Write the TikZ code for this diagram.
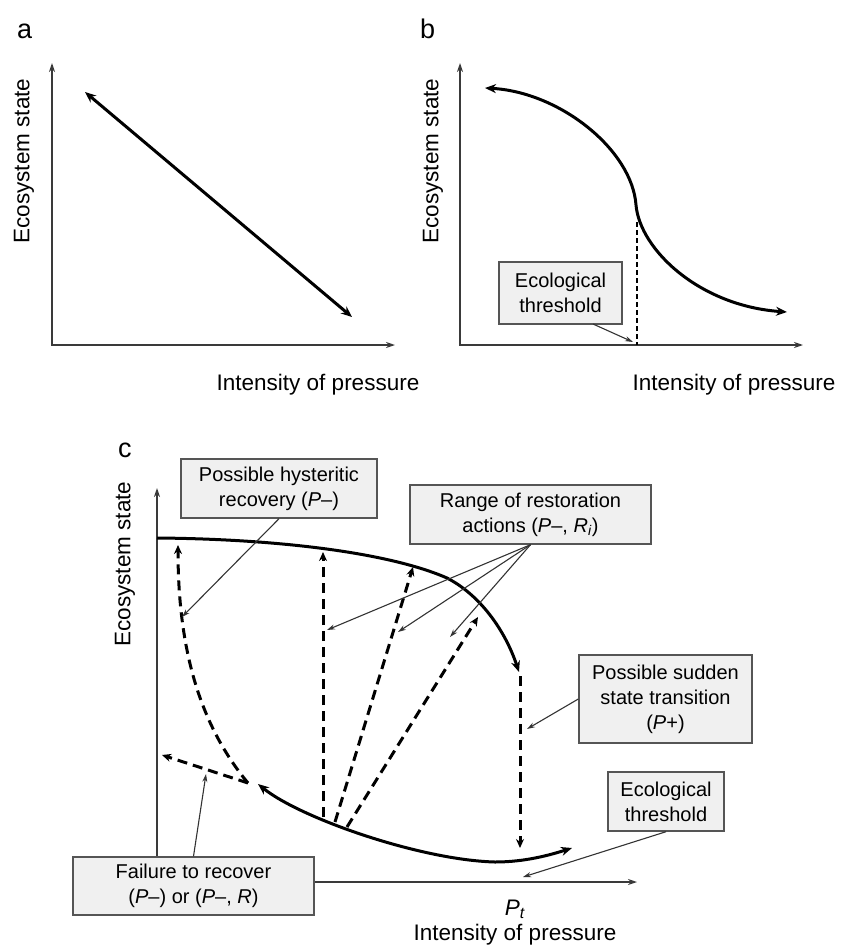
\documentclass[tikz,border=0pt]{standalone}
\usepackage{fontspec}
\setmainfont{Liberation Sans}
\usepackage{tikz}
\usetikzlibrary{arrows.meta}
\definecolor{axisGray}{HTML}{3A3A3A}
\definecolor{boxFill}{HTML}{F0F0F0}
\definecolor{boxEdge}{HTML}{555555}
\definecolor{pointerGray}{HTML}{333333}
\newcommand{\panelfont}{\fontsize{27}{30}\selectfont}
\newcommand{\axisfont}{\fontsize{22.5}{27}\selectfont}
\newcommand{\notefont}{\fontsize{20}{25}\selectfont}
\tikzstyle{axis} = [draw=axisGray, line width=1.6pt, {Stealth[length=9pt,width=6pt]}-{Stealth[length=9pt,width=6pt]}]
\tikzstyle{trend} = [draw, line width=3pt, {Stealth[length=11pt,width=9pt]}-{Stealth[length=11pt,width=9pt]}]
\tikzstyle{curve} = [draw, line width=3pt, -{Stealth[length=11pt,width=9pt]}]
\tikzstyle{jump} = [draw, line width=3pt, dash pattern=on 10pt off 6pt, -{Stealth[length=9pt,width=8pt]}]
\tikzstyle{thresh} = [draw, line width=1.3pt, dash pattern=on 5pt off 3pt]
\tikzstyle{pointer} = [draw=pointerGray, line width=1.1pt, -{Stealth[length=8pt,width=5pt]}]
\tikzstyle{note} = [rectangle, draw=boxEdge, fill=boxFill, line width=1.4pt, align=center, inner sep=0pt, font=\notefont]
\tikzstyle{panel} = [inner sep=0pt, font=\panelfont]
\tikzstyle{axisLabel} = [inner sep=0pt, font=\axisfont]

\begin{document}
\begin{tikzpicture}[x=1pt, y=-1pt]

   \useasboundingbox (0,0) rectangle (844,947);

   %% Panel a

   \node[panel, anchor=base west] (labA) at (17,39) {a};

   \coordinate (oA) at (52,345);
   \coordinate (yA) at (52,63);
   \coordinate (xA) at (395,345);
   \path[axis] (yA) -- (oA) -- (xA);

   \node[axisLabel, rotate=90] (ylabA) at (24,161) {Ecosystem state};
   \node[axisLabel, anchor=base] (xlabA) at (318,390) {Intensity of pressure};

   \coordinate (hiA) at (85,92);
   \coordinate (loA) at (352,317);
   \path[trend] (hiA) -- (loA);

   %% Panel b

   \node[panel, anchor=base west] (labB) at (420,39) {b};

   \coordinate (oB) at (460,345);
   \coordinate (yB) at (460,63);
   \coordinate (xB) at (803,345);
   \path[axis] (yB) -- (oB) -- (xB);

   \node[axisLabel, rotate=90] (ylabB) at (433,161) {Ecosystem state};
   \node[axisLabel, anchor=base] (xlabB) at (734,390) {Intensity of pressure};

   \coordinate (hiB) at (485,88);
   \coordinate (midB) at (636,205);
   \coordinate (loB) at (787,312);
   \path[trend] (hiB) .. controls (560,92) and (632,150) .. (midB)
                .. controls (640,250) and (700,306) .. (loB);

   % threshold line
   \coordinate (tB) at (637,222);
   \coordinate (tBaxis) at (637,345);
   \path[thresh] (tB) -- (tBaxis);

   \node[note, minimum width=123pt, minimum height=62pt] (ecoB) at (560.5,293) {Ecological\\threshold};
   \coordinate (ecoBfoot) at (593,324);
   \coordinate (ecoBtip) at (633,342);
   \path[pointer] (ecoBfoot) -- (ecoBtip);

   %% Panel c

   \node[panel, anchor=base west] (labC) at (118,457) {c};

   \coordinate (oC) at (157,882);
   \coordinate (yC) at (157,488);
   \coordinate (xC) at (637,882);
   \path[axis] (yC) -- (oC) -- (xC);

   \node[axisLabel, rotate=90] (ylabC) at (125,564) {Ecosystem state};
   \node[axisLabel, anchor=base] (ptC) at (515,915) {\textit{P}\textsubscript{\textit{t}}};
   \node[axisLabel, anchor=base] (xlabC) at (515,940) {Intensity of pressure};

   % stable state
   \coordinate (stableC) at (157,538);
   \coordinate (bendC) at (447,578);
   \coordinate (edgeC) at (519,672);
   \path[curve] (stableC) .. controls (280,539) and (390,553) .. (bendC)
                .. controls (480,595) and (505,630) .. (edgeC);

   % degraded state
   \coordinate (degL) at (258,784);
   \coordinate (degM) at (495,862);
   \coordinate (degR) at (572,848);
   \path[trend] (degL) .. controls (300,818) and (420,860) .. (degM)
                .. controls (525,862) and (550,855) .. (degR);

   % dashed transitions
   \coordinate (hystBot) at (248,783);
   \coordinate (hystTop) at (178,545);
   \coordinate (failTip) at (162,755);
   \path[jump] (hystBot) .. controls (200,725) and (178,650) .. (hystTop);
   \path[jump] (hystBot) -- (failTip);

   \coordinate (r1Bot) at (323,817);
   \coordinate (r1Top) at (323,552);
   \coordinate (r2Bot) at (335,822);
   \coordinate (r2Top) at (413,567);
   \coordinate (r3Bot) at (347,827);
   \coordinate (r3Top) at (478,617);
   \path[jump] (r1Bot) -- (r1Top);
   \path[jump] (r2Bot) -- (r2Top);
   \path[jump] (r3Bot) -- (r3Top);

   \coordinate (jumpTop) at (520,676);
   \coordinate (jumpBot) at (520,848);
   \path[jump] (jumpTop) -- (jumpBot);

   %% Boxes

   \node[note, minimum width=196pt, minimum height=59pt] (hyst) at (279,488.5) {Possible hysteritic\\recovery (\textit{P}–)};
   \node[note, minimum width=241pt, minimum height=59pt] (range) at (530.5,514.5) {Range of restoration\\actions (\textit{P}–, \textit{R}\textsubscript{\textit{i}})};
   \node[note, minimum width=173pt, minimum height=88pt] (sudden) at (665.5,699) {Possible sudden\\state transition\\(\textit{P}+)};
   \node[note, minimum width=116pt, minimum height=59pt] (ecoC) at (666,801.5) {Ecological\\threshold};
   \node[note, minimum width=241pt, minimum height=58pt] (fail) at (193.5,886) {Failure to recover\\(\textit{P}–) or (\textit{P}–, \textit{R})};

   %% Pointers

   \coordinate (hystTip) at (182,617);
   \coordinate (rangeTip1) at (327,630);
   \coordinate (rangeTip2) at (398,632);
   \coordinate (rangeTip3) at (450,637);
   \coordinate (suddenTip) at (527,729);
   \coordinate (ecoCTip) at (523,877);
   \coordinate (failTipPtr) at (206,774);

   \path[pointer] (hyst.south) -- (hystTip);
   \path[pointer] (range.south) -- (rangeTip1);
   \path[pointer] (range.south) -- (rangeTip2);
   \path[pointer] (range.south) -- (rangeTip3);
   \path[pointer] (sudden.west) -- (suddenTip);
   \path[pointer] (ecoC.south) -- (ecoCTip);
   \path[pointer] (fail.north) -- (failTipPtr);

\end{tikzpicture}
\end{document}
